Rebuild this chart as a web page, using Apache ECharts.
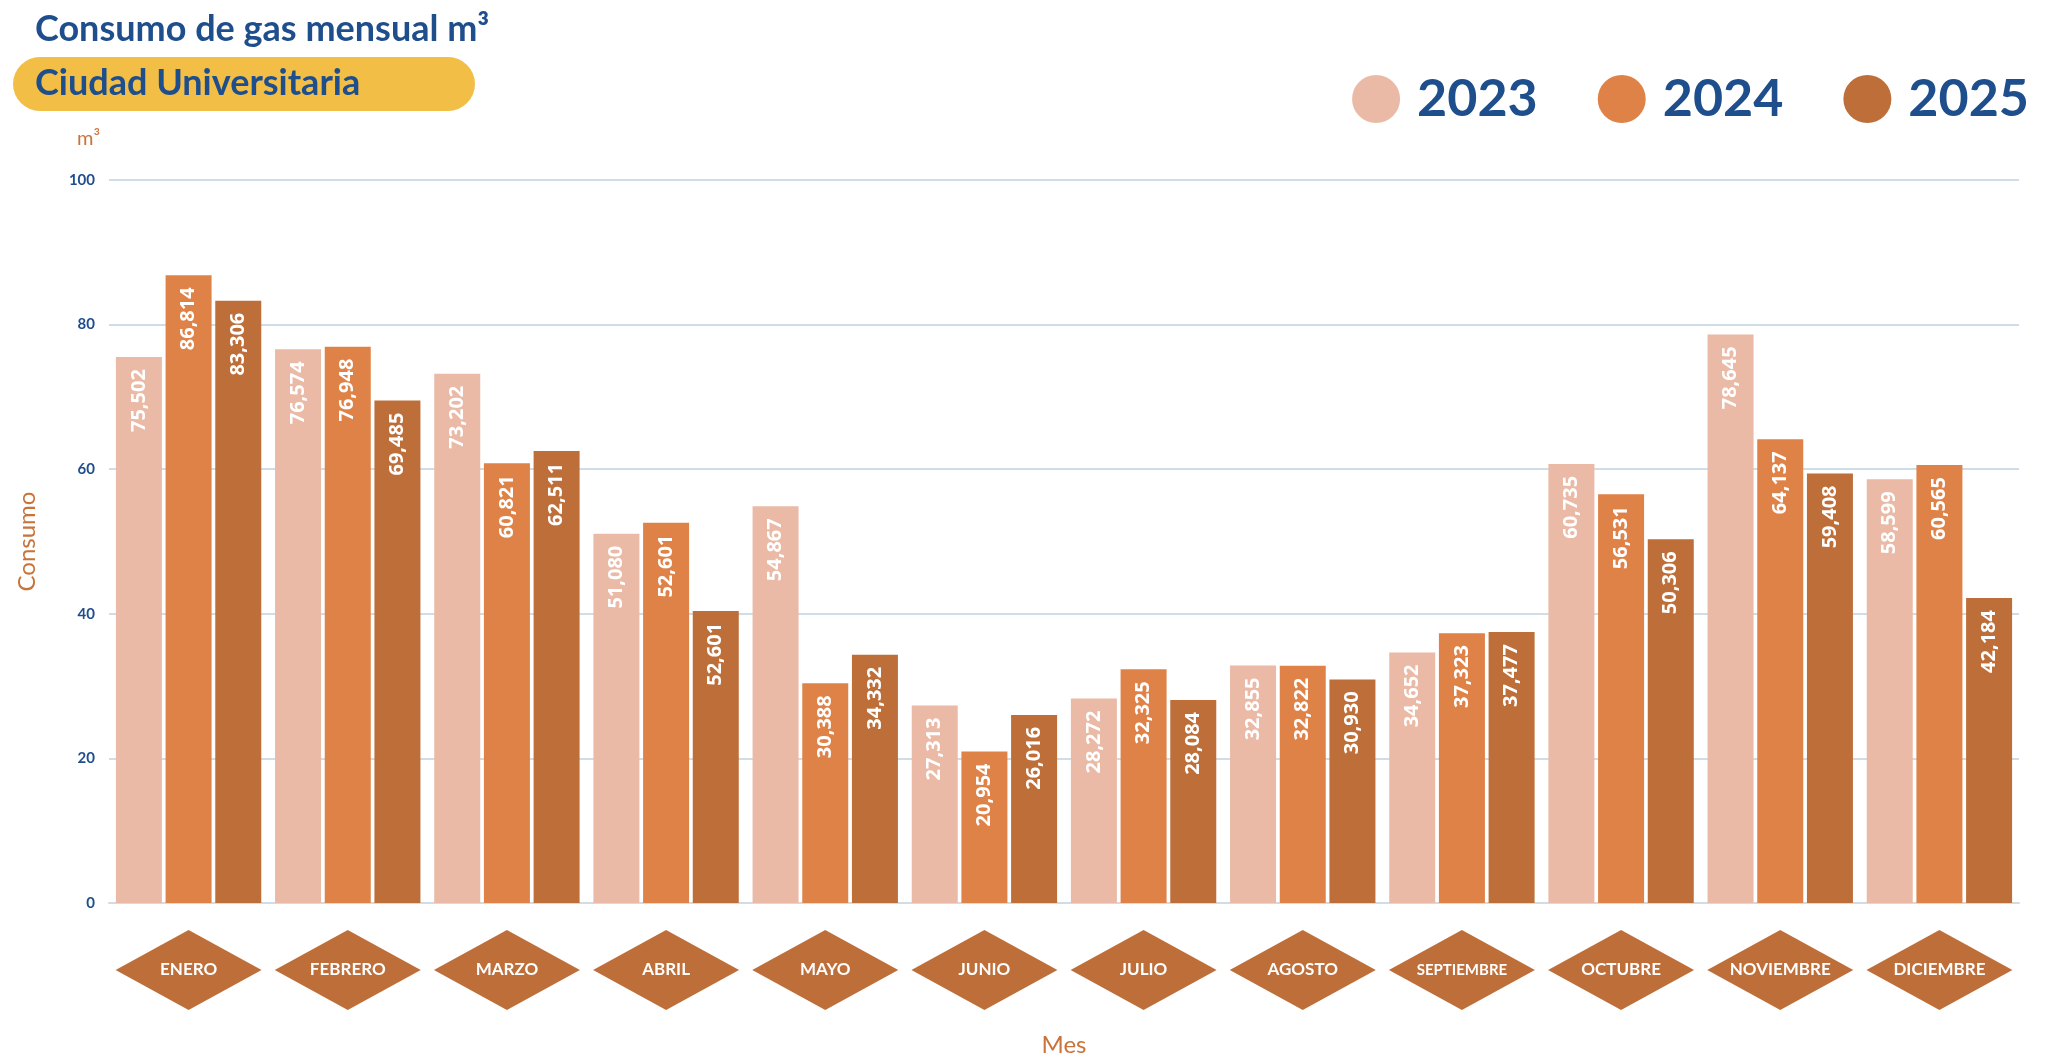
<!DOCTYPE html>
<html><head><meta charset="utf-8">
<script src="https://cdn.jsdelivr.net/npm/echarts@6/dist/echarts.min.js"></script>
<style>html,body{margin:0;padding:0;background:#fff}#c{width:2052px;height:1062px}</style>
</head><body><div id="c"></div>
<script>
const months = ['ENERO','FEBRERO','MARZO','ABRIL','MAYO','JUNIO','JULIO','AGOSTO','SEPTIEMBRE','OCTUBRE','NOVIEMBRE','DICIEMBRE'];
const years = ['2023','2024','2025'];
// bar heights (thousands of m³) as drawn
const v2023 = [75.502,76.574,73.202,51.080,54.867,27.313,28.272,32.855,34.652,60.735,78.645,58.599];
const v2024 = [86.814,76.948,60.821,52.601,30.388,20.954,32.325,32.822,37.323,56.531,64.137,60.565];
const v2025 = [83.306,69.485,62.511,40.4,34.332,26.016,28.084,30.930,37.477,50.306,59.408,42.184];
// printed labels
const l2023 = ['75,502','76,574','73,202','51,080','54,867','27,313','28,272','32,855','34,652','60,735','78,645','58,599'];
const l2024 = ['86,814','76,948','60,821','52,601','30,388','20,954','32,325','32,822','37,323','56,531','64,137','60,565'];
const l2025 = ['83,306','69,485','62,511','52,601','34,332','26,016','28,084','30,930','37,477','50,306','59,408','42,184'];
const yTicks = [0,20,40,60,80,100];
const colors = ['#EABAA6','#DF8247','#BE6E38'];
const blue = '#1F4E8C';

const chart = echarts.init(document.getElementById('c'));
function barSeries(name, vals, labels, color){
  return {name, type:'bar', data: vals, barWidth:46, barGap:'8%', itemStyle:{color},
    label:{show:true, rotate:90, position:'insideTop', align:'right', verticalAlign:'middle', distance:12,
      color:'#fff', fontWeight:'bold', fontSize:20, fontFamily:'Open Sans',
      formatter: p => labels[p.dataIndex]}};
}
chart.setOption({
  animation:false,
  title:[
    {text:'Consumo de gas mensual m³', left:30, top:6, textStyle:{color:blue, fontSize:36, fontWeight:'bold', fontFamily:'Lato'}},
    {text:'Ciudad Universitaria', left:30, top:60, textStyle:{color:blue, fontSize:36, fontWeight:'bold', fontFamily:'Lato'}},
    {text:'m³', left:72, top:124, textStyle:{color:'#C8733A', fontSize:20, fontWeight:'normal', fontFamily:'Lato'}}
  ],
  graphic:[{type:'rect', left:13, top:57, z:-1, shape:{width:462, height:54, r:27}, style:{fill:'#F2BE45'}}],
  legend:{right:18, top:68, itemWidth:48, itemHeight:48, icon:'circle', itemGap:60,
    textStyle:{color:blue, fontSize:52, fontWeight:'bold', fontFamily:'Lato', padding:[0,0,0,12]}, data:years},
  grid:{left:109, right:33, top:180, bottom:159},
  xAxis:{type:'category', data:months, axisTick:{show:false}, axisLabel:{show:false},
    axisLine:{lineStyle:{color:'#cfdde8', width:2}},
    name:'Mes', nameLocation:'middle', nameGap:130, nameTextStyle:{color:'#C8733A', fontSize:24, fontFamily:'Lato'}},
  yAxis:{type:'value', min:0, max:100, interval:20,
    axisLabel:{color:blue, fontSize:15, fontWeight:'bold', fontFamily:'Lato', margin:14, formatter: v => yTicks.includes(v)? String(v):''},
    splitLine:{lineStyle:{color:'#cfdde8', width:2}},
    name:'Consumo', nameLocation:'middle', nameGap:70, nameTextStyle:{color:'#C8733A', fontSize:24, fontFamily:'Lato'}},
  series:[
    barSeries('2023', v2023, l2023, colors[0]),
    barSeries('2024', v2024, l2024, colors[1]),
    barSeries('2025', v2025, l2025, colors[2]),
    {type:'custom', clip:false, silent:true, data: months.map((m,i)=>[i,0]),
      renderItem:(params, api)=>{
        const p = api.coord([api.value(0),0]);
        const cx = p[0], cy = p[1]+67, w=73, h=40;
        return {type:'group', children:[
          {type:'polygon', shape:{points:[[cx-w,cy],[cx,cy-h],[cx+w,cy],[cx,cy+h]]}, style:{fill:'#BE6E38'}},
          {type:'text', style:{text:months[params.dataIndex], x:cx, y:cy, align:'center', verticalAlign:'middle',
            fill:'#fff', fontSize: months[params.dataIndex].length>9?15:17, fontWeight:'bold', fontFamily:'Lato'}}
        ]};
      }}
  ]
});
</script></body></html>
